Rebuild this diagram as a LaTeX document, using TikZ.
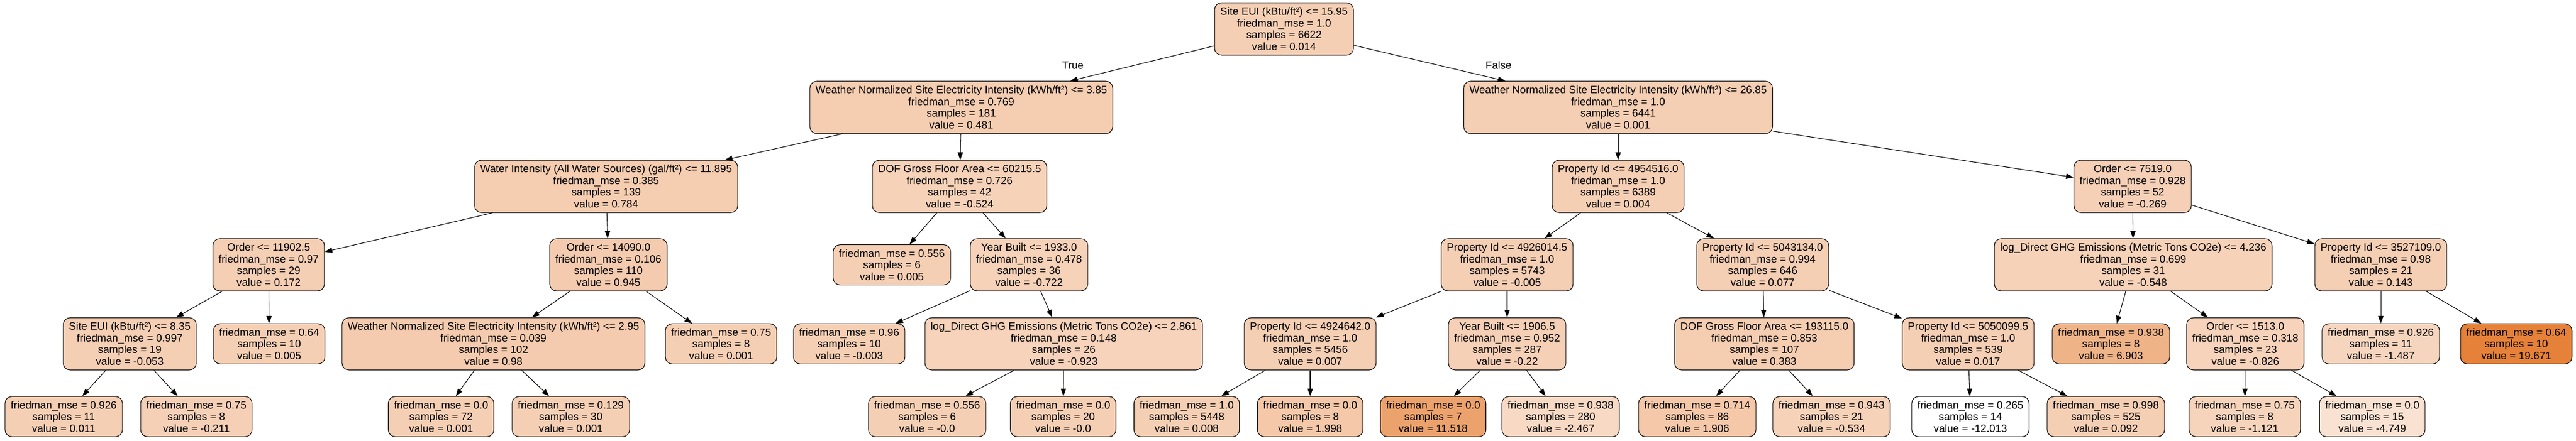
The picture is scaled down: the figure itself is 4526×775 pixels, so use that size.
\documentclass[tikz,border=0pt]{standalone}
\usepackage{fontspec}
\setmainfont{Liberation Sans}
\usetikzlibrary{arrows.meta}
\definecolor{dtorange}{RGB}{229,129,57}
\tikzstyle{every node}=[font=\fontsize{14}{15.4}\selectfont]
\tikzstyle{box}=[draw=black,line width=0.8pt,rounded corners=9pt,align=center,inner xsep=7.5pt,inner ysep=2pt]
\tikzstyle{split}=[box,minimum height=69pt]
\tikzstyle{leaf}=[box,minimum height=53pt]
\tikzstyle{arr}=[draw=black,line width=0.8pt,-{Triangle[length=10pt,width=7pt]}]
\tikzset{tone/.style={fill=dtorange!#1!white}}

\begin{document}
\begin{tikzpicture}[x=0.75pt,y=-0.75pt]
  \useasboundingbox (0,0) rectangle (4526,775);
  \node[split,tone=38] (n0) at (2256,51) {Site EUI (kBtu/ft²) <= 15.95\\friedman\_mse = 1.0\\samples = 6622\\value = 0.014};
  % rama True
  \node[split,tone=39] (n1) at (1689,189) {Weather Normalized Site Electricity Intensity (kWh/ft²) <= 3.85\\friedman\_mse = 0.769\\samples = 181\\value = 0.481};
  \node[split,tone=40] (n2) at (1065,328) {Water Intensity (All Water Sources) (gal/ft²) <= 11.895\\friedman\_mse = 0.385\\samples = 139\\value = 0.784};
  \node[split,tone=38] (n3) at (472,466) {Order <= 11902.5\\friedman\_mse = 0.97\\samples = 29\\value = 0.172};
  \node[split,tone=38] (n4) at (228,605) {Site EUI (kBtu/ft²) <= 8.35\\friedman\_mse = 0.997\\samples = 19\\value = -0.053};
  \node[leaf,tone=38] (n5) at (112,733) {friedman\_mse = 0.926\\samples = 11\\value = 0.011};
  \node[leaf,tone=37] (n6) at (345,733) {friedman\_mse = 0.75\\samples = 8\\value = -0.211};
  \node[leaf,tone=38] (n7) at (473,605) {friedman\_mse = 0.64\\samples = 10\\value = 0.005};
  \node[split,tone=41] (n8) at (1069,466) {Order <= 14090.0\\friedman\_mse = 0.106\\samples = 110\\value = 0.945};
  \node[split,tone=41] (n9) at (867,605) {Weather Normalized Site Electricity Intensity (kWh/ft²) <= 2.95\\friedman\_mse = 0.039\\samples = 102\\value = 0.98};
  \node[leaf,tone=38] (n10) at (775,733) {friedman\_mse = 0.0\\samples = 72\\value = 0.001};
  \node[leaf,tone=38] (n11) at (1003,733) {friedman\_mse = 0.129\\samples = 30\\value = 0.001};
  \node[leaf,tone=38] (n12) at (1267,605) {friedman\_mse = 0.75\\samples = 8\\value = 0.001};
  \node[split,tone=36] (n13) at (1686,328) {DOF Gross Floor Area <= 60215.5\\friedman\_mse = 0.726\\samples = 42\\value = -0.524};
  \node[leaf,tone=38] (n14) at (1567,466) {friedman\_mse = 0.556\\samples = 6\\value = 0.005};
  \node[split,tone=36] (n15) at (1808,466) {Year Built <= 1933.0\\friedman\_mse = 0.478\\samples = 36\\value = -0.722};
  \node[leaf,tone=38] (n16) at (1492,605) {friedman\_mse = 0.96\\samples = 10\\value = -0.003};
  \node[split,tone=35] (n17) at (1869,605) {log\_Direct GHG Emissions (Metric Tons CO2e) <= 2.861\\friedman\_mse = 0.148\\samples = 26\\value = -0.923};
  \node[leaf,tone=38] (n18) at (1629,733) {friedman\_mse = 0.556\\samples = 6\\value = -0.0};
  \node[leaf,tone=38] (n19) at (1868,733) {friedman\_mse = 0.0\\samples = 20\\value = -0.0};
  % rama False
  \node[split,tone=38] (n20) at (2843,189) {Weather Normalized Site Electricity Intensity (kWh/ft²) <= 26.85\\friedman\_mse = 1.0\\samples = 6441\\value = 0.001};
  \node[split,tone=38] (n21) at (2843,328) {Property Id <= 4954516.0\\friedman\_mse = 1.0\\samples = 6389\\value = 0.004};
  \node[split,tone=38] (n22) at (2648,466) {Property Id <= 4926014.5\\friedman\_mse = 1.0\\samples = 5743\\value = -0.005};
  \node[split,tone=38] (n23) at (2302,605) {Property Id <= 4924642.0\\friedman\_mse = 1.0\\samples = 5456\\value = 0.007};
  \node[leaf,tone=38] (n24) at (2085,733) {friedman\_mse = 1.0\\samples = 5448\\value = 0.008};
  \node[leaf,tone=44] (n25) at (2302,733) {friedman\_mse = 0.0\\samples = 8\\value = 1.998};
  \node[split,tone=37] (n26) at (2648,605) {Year Built <= 1906.5\\friedman\_mse = 0.952\\samples = 287\\value = -0.22};
  \node[leaf,tone=74] (n27) at (2518,733) {friedman\_mse = 0.0\\samples = 7\\value = 11.518};
  \node[leaf,tone=30] (n28) at (2742,733) {friedman\_mse = 0.938\\samples = 280\\value = -2.467};
  \node[split,tone=38] (n29) at (3097,466) {Property Id <= 5043134.0\\friedman\_mse = 0.994\\samples = 646\\value = 0.077};
  \node[split,tone=39] (n30) at (3100,605) {DOF Gross Floor Area <= 193115.0\\friedman\_mse = 0.853\\samples = 107\\value = 0.383};
  \node[leaf,tone=44] (n31) at (2982,733) {friedman\_mse = 0.714\\samples = 86\\value = 1.906};
  \node[leaf,tone=36] (n32) at (3218,733) {friedman\_mse = 0.943\\samples = 21\\value = -0.534};
  \node[split,tone=38] (n33) at (3458,605) {Property Id <= 5050099.5\\friedman\_mse = 1.0\\samples = 539\\value = 0.017};
  \node[leaf,tone=0] (n34) at (3462,733) {friedman\_mse = 0.265\\samples = 14\\value = -12.013};
  \node[leaf,tone=38] (n35) at (3700,733) {friedman\_mse = 0.998\\samples = 525\\value = 0.092};
  \node[split,tone=37] (n36) at (3747,328) {Order <= 7519.0\\friedman\_mse = 0.928\\samples = 52\\value = -0.269};
  \node[split,tone=36] (n37) at (3748,466) {log\_Direct GHG Emissions (Metric Tons CO2e) <= 4.236\\friedman\_mse = 0.699\\samples = 31\\value = -0.548};
  \node[leaf,tone=60] (n38) at (3709,605) {friedman\_mse = 0.938\\samples = 8\\value = 6.903};
  \node[split,tone=35] (n39) at (3945,605) {Order <= 1513.0\\friedman\_mse = 0.318\\samples = 23\\value = -0.826};
  \node[leaf,tone=34] (n40) at (3944,733) {friedman\_mse = 0.75\\samples = 8\\value = -1.121};
  \node[leaf,tone=23] (n41) at (4168,733) {friedman\_mse = 0.0\\samples = 15\\value = -4.749};
  \node[split,tone=38] (n42) at (4183,466) {Property Id <= 3527109.0\\friedman\_mse = 0.98\\samples = 21\\value = 0.143};
  \node[leaf,tone=33] (n43) at (4183,605) {friedman\_mse = 0.926\\samples = 11\\value = -1.487};
  \node[leaf,tone=100] (n44) at (4421,605) {friedman\_mse = 0.64\\samples = 10\\value = 19.671};

  \node (ltrue) at (1885,115) {True};
  \node (lfalse) at (2633,115) {False};

  \path[arr] (n0) edge (n1) edge (n20);
  \path[arr] (n1) edge (n2) edge (n13);
  \path[arr] (n2) edge (n3) edge (n8);
  \path[arr] (n3) edge (n4) edge (n7);
  \path[arr] (n4) edge (n5) edge (n6);
  \path[arr] (n8) edge (n9) edge (n12);
  \path[arr] (n9) edge (n10) edge (n11);
  \path[arr] (n13) edge (n14) edge (n15);
  \path[arr] (n15) edge (n16) edge (n17);
  \path[arr] (n17) edge (n18) edge (n19);
  \path[arr] (n20) edge (n21) edge (n36);
  \path[arr] (n21) edge (n22) edge (n29);
  \path[arr] (n22) edge (n23) edge (n26);
  \path[arr] (n23) edge (n24) edge (n25);
  \path[arr] (n26) edge (n27) edge (n28);
  \path[arr] (n29) edge (n30) edge (n33);
  \path[arr] (n30) edge (n31) edge (n32);
  \path[arr] (n33) edge (n34) edge (n35);
  \path[arr] (n36) edge (n37) edge (n42);
  \path[arr] (n37) edge (n38) edge (n39);
  \path[arr] (n39) edge (n40) edge (n41);
  \path[arr] (n42) edge (n43) edge (n44);
\end{tikzpicture}
\end{document}
